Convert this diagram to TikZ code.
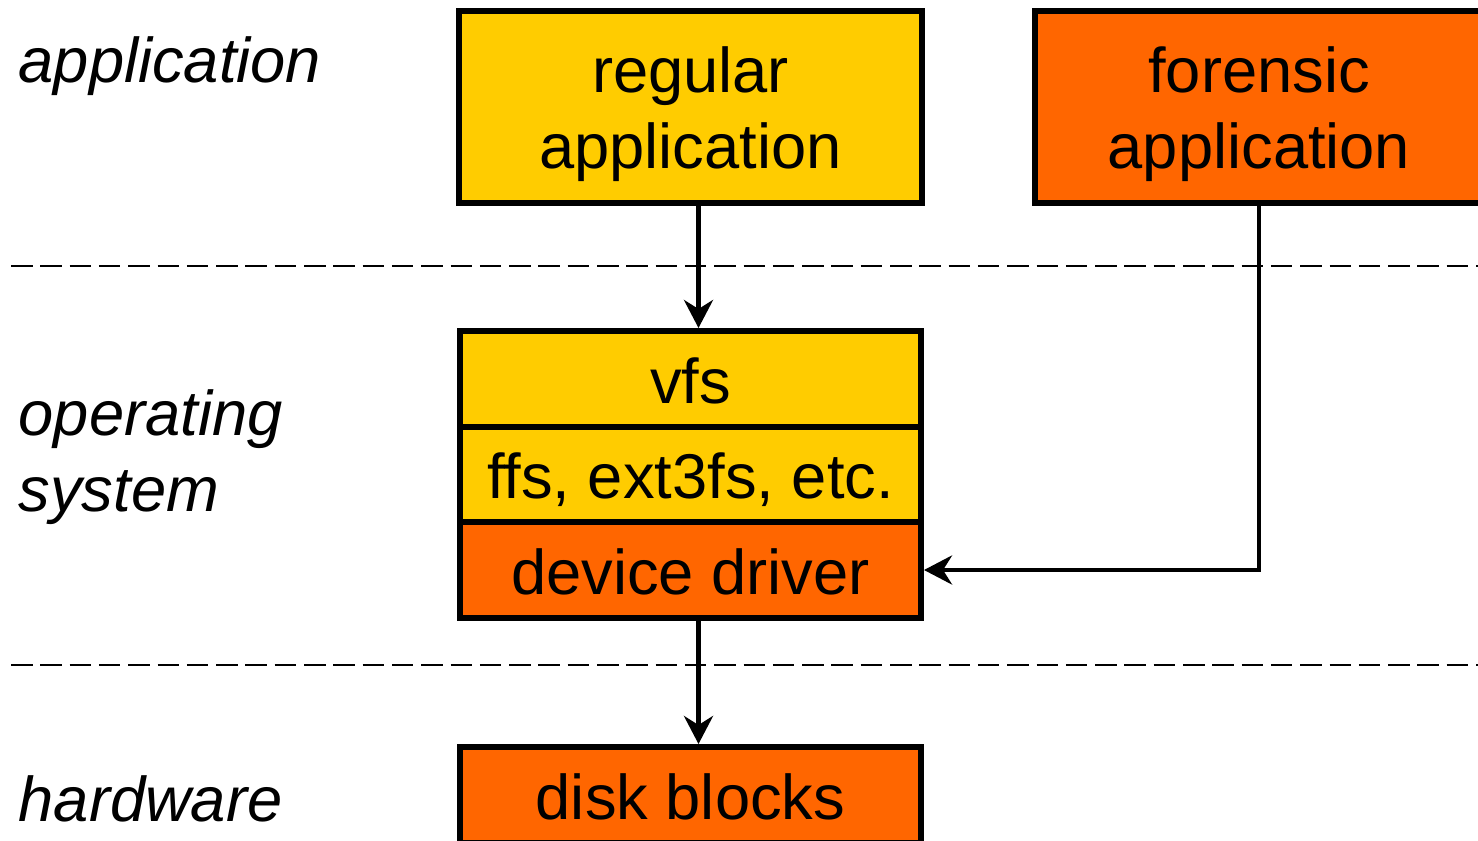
\documentclass[tikz,border=0pt]{standalone}
\usepackage{fontspec}
\setmainfont{Liberation Sans}
\usepackage{tikz}
\usetikzlibrary{arrows.meta}
\definecolor{fsyellow}{HTML}{FFCC00}
\definecolor{fsorange}{HTML}{FF6600}
\tikzset{
  layerbox/.style={draw=black, line width=0.06cm, inner sep=0pt, align=center, font=\fontsize{18}{21.6}\selectfont},
  userbox/.style={layerbox, fill=fsyellow},
  rawbox/.style={layerbox, fill=fsorange},
  cell/.style={minimum width=4.61cm, minimum height=0.96cm, text height=0.68cm, text depth=0.2cm},
  appcell/.style={minimum height=1.92cm, text height=1.42cm, text depth=0.2cm},
  flow/.style={draw=black, line width=0.045cm, -{Stealth[length=0.28cm, width=0.29cm, inset=0.09cm]}},
  tier/.style={draw=black, line width=0.025cm, dash pattern=on 0.215cm off 0.078cm},
  tierlab/.style={font=\fontsize{18}{21.6}\selectfont\itshape, anchor=base west, align=left, inner sep=0pt},
}

\begin{document}
\begin{tikzpicture}
  \useasboundingbox (0,0) rectangle (14.78,-8.40);
  \clip (0,0) rectangle (14.78,-8.40);
  % layer separators
  \draw[tier] (0.11,-2.66) -- (14.78,-2.66);
  \draw[tier] (0.11,-6.65) -- (14.78,-6.65);
  % layer names
  \node[tierlab] (lapp) at (0.18,-0.82) {application};
  \node[tierlab] (los) at (0.18,-5.11) {operating\\system};
  \node[tierlab] (lhw) at (0.18,-8.21) {hardware};
  % applications
  \node[userbox, appcell, minimum width=4.63cm] (reg) at (6.905,-1.07) {regular\\application};
  \node[rawbox, appcell, minimum width=4.48cm] (fa) at (12.59,-1.07) {forensic\\application};
  % kernel stack
  \node[userbox, cell] (vfs) at (6.905,-3.79) {vfs};
  \node[userbox, cell, minimum height=0.95cm] (ffs) at (6.905,-4.745) {ffs, ext3fs, etc.};
  \node[rawbox, cell] (dd) at (6.905,-5.70) {device driver};
  % hardware
  \node[rawbox, cell] (disk) at (6.905,-7.95) {disk blocks};
  % access paths
  \draw[flow] ([xshift=0.08cm]reg.south) -- ([xshift=0.08cm]vfs.north);
  \draw[flow] (fa.south) |- (dd.east);
  \draw[flow] ([xshift=0.08cm]dd.south) -- ([xshift=0.08cm]disk.north);
\end{tikzpicture}
\end{document}
